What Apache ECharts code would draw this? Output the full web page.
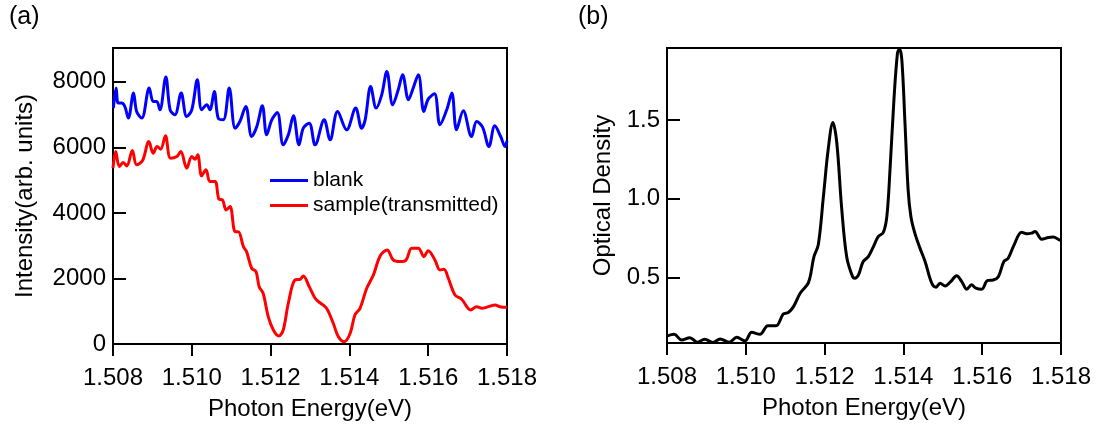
<!DOCTYPE html>
<html>
<head>
<meta charset="utf-8">
<script src="https://cdn.jsdelivr.net/npm/echarts@6/dist/echarts.min.js"></script>
<style>html,body{margin:0;padding:0;background:#fff;}#c{width:1099px;height:430px;}</style>
</head>
<body>
<div id="c"></div>
<script>
const xTicks = [1.508, 1.510, 1.512, 1.514, 1.516, 1.518];
const intensityTicks = [0, 2000, 4000, 6000, 8000];
const odTicks = [0.5, 1.0, 1.5];

const blueX = [1.50801,1.50808,1.50813,1.50822,1.5083,1.50839,1.50852,1.5086,1.50873,1.50892,1.50902,1.50911,1.50919,1.50934,1.50945,1.50957,1.50973,1.50987,1.51,1.51014,1.51025,1.51038,1.51046,1.51057,1.51067,1.5108,1.51095,1.5111,1.51122,1.51137,1.51152,1.51165,1.51179,1.5119,1.51203,1.51217,1.51232,1.51245,1.51258,1.51272,1.51283,1.51298,1.51313,1.51336,1.51351,1.5137,1.51393,1.51416,1.51431,1.5144,1.51454,1.51468,1.51482,1.51495,1.5151,1.51524,1.51535,1.5155,1.51561,1.51575,1.51589,1.516,1.51616,1.5163,1.51647,1.5166,1.51672,1.51689,1.5171,1.51723,1.51738,1.51754,1.51769,1.51784,1.51795,1.518];
const blankY = [7196,7807,7349,7349,7245,6891,7654,7092,6891,7807,7398,7398,7144,8142,7144,6991,7654,6940,7144,8060,7144,7297,7144,7703,6891,6839,7807,6585,6787,7245,6329,6634,7266,6381,6839,7062,6075,6381,6961,6075,6585,6738,6075,6839,6228,7092,6533,7196,6585,6839,7855,7196,7602,8313,7297,7755,8213,7449,7776,8213,7092,7471,7633,6686,7144,7654,6533,7113,6329,6787,6616,6024,6656,6329,6024,6198];

const redX = [1.508,1.50807,1.50816,1.50826,1.50835,1.50849,1.5086,1.50875,1.50891,1.50902,1.50912,1.50921,1.50933,1.50946,1.50962,1.50972,1.50987,1.51,1.51008,1.51015,1.51025,1.51036,1.51046,1.51059,1.51069,1.51078,1.51087,1.51097,1.5111,1.51118,1.51131,1.51139,1.51152,1.51163,1.51171,1.51181,1.51194,1.51207,1.51221,1.51232,1.51245,1.51262,1.51275,1.51283,1.51298,1.51313,1.51325,1.51342,1.51359,1.51372,1.51387,1.51402,1.51414,1.51427,1.51444,1.51461,1.51478,1.51496,1.51511,1.51528,1.51544,1.51558,1.51575,1.51589,1.516,1.51617,1.5163,1.5164,1.51651,1.51668,1.51685,1.51708,1.51723,1.51736,1.51753,1.5177,1.51782,1.518];
const sampleY = [5364,5871,5413,5535,5434,5901,5465,5596,6176,5822,6024,5944,6350,5669,5718,5871,5364,5718,5639,5770,5129,5312,4955,4955,4418,4396,4091,4192,3428,3428,2971,2818,2311,2207,1749,1548,833,427,244,427,1243,1954,1975,2076,1749,1395,1261,1090,632,223,70,327,885,1090,1700,2107,2687,2870,2565,2513,2565,2922,2922,2665,2848,2565,2259,2281,2006,1496,1365,1038,1139,1090,1139,1191,1139,1120];

const odX = [1.50801,1.50818,1.50837,1.50858,1.50877,1.50896,1.50916,1.50935,1.50958,1.50977,1.50998,1.51015,1.51036,1.51056,1.51077,1.51095,1.51108,1.51121,1.51138,1.51159,1.51173,1.51184,1.51197,1.51209,1.51221,1.51231,1.51243,1.51256,1.51271,1.51277,1.51286,1.51298,1.51311,1.51324,1.51336,1.51349,1.51358,1.51366,1.51376,1.51385,1.5139,1.51396,1.51404,1.51412,1.51419,1.51429,1.51442,1.51455,1.51472,1.51483,1.51493,1.51506,1.5152,1.51535,1.51548,1.51561,1.51573,1.51584,1.51599,1.51613,1.51628,1.51641,1.51655,1.51666,1.51681,1.517,1.51713,1.51725,1.51734,1.51751,1.51768,1.5178,1.51796,1.518];
const odY = [0.130,0.140,0.104,0.119,0.090,0.109,0.088,0.111,0.089,0.121,0.098,0.153,0.140,0.195,0.195,0.269,0.278,0.316,0.401,0.468,0.633,0.708,1.015,1.311,1.485,1.354,0.951,0.633,0.506,0.496,0.517,0.602,0.633,0.697,0.760,0.786,0.888,1.184,1.629,1.926,1.951,1.883,1.481,1.057,0.888,0.782,0.687,0.602,0.464,0.439,0.464,0.447,0.475,0.511,0.475,0.426,0.454,0.433,0.426,0.481,0.485,0.506,0.602,0.623,0.708,0.788,0.778,0.782,0.792,0.744,0.754,0.757,0.740,0.735];

const zip = (xs, ys) => xs.map((x, i) => [x, ys[i]]);
const FONT = '"Liberation Sans", Arial, sans-serif';
const txt = (size) => ({ color: '#000', fontFamily: FONT, fontSize: size });

function xAxisFor(gridIndex) {
  return {
    type: 'value', gridIndex, min: 1.508, max: 1.518, interval: 0.002,
    name: 'Photon Energy(eV)', nameLocation: 'middle', nameGap: 53,
    nameTextStyle: txt(24),
    axisLine: { show: true, onZero: false, lineStyle: { color: '#000', width: 2 } },
    axisTick: { show: true, inside: false, length: 12, lineStyle: { color: '#000', width: 2 } },
    axisLabel: { margin: 22, formatter: v => v.toFixed(3), ...txt(24) },
    splitLine: { show: false }
  };
}

const option = {
  animation: false,
  backgroundColor: '#fff',
  graphic: [
    { type: 'text', left: 9, top: 5, style: { text: '(a)', fill: '#000', font: '25px "Liberation Sans", Arial, sans-serif' } },
    { type: 'text', left: 578, top: 5, style: { text: '(b)', fill: '#000', font: '25px "Liberation Sans", Arial, sans-serif' } }
  ],
  grid: [
    { left: 113, right: 592, top: 48, bottom: 86, show: true, borderColor: '#000', borderWidth: 2, backgroundColor: 'transparent' },
    { left: 667, right: 38, top: 48, bottom: 87, show: true, borderColor: '#000', borderWidth: 2, backgroundColor: 'transparent' }
  ],
  legend: {
    data: ['blank', 'sample(transmitted)'],
    left: 265, top: 165, orient: 'vertical',
    icon: 'rect', itemWidth: 38, itemHeight: 3, itemGap: 4,
    textStyle: txt(21)
  },
  xAxis: [xAxisFor(0), xAxisFor(1)],
  yAxis: [
    {
      type: 'value', gridIndex: 0, min: 0, max: 9030, interval: 2000,
      name: 'Intensity(arb. units)', nameLocation: 'middle', nameGap: 76, nameRotate: 90,
      nameTextStyle: txt(24),
      axisLine: { show: true, onZero: false, lineStyle: { color: '#000', width: 2 } },
      axisTick: { show: true, inside: true, length: 13, customValues: intensityTicks, lineStyle: { color: '#000', width: 2 } },
      axisLabel: { customValues: intensityTicks, margin: 7, formatter: v => String(Math.round(v)), ...txt(24) },
      splitLine: { show: false }
    },
    {
      type: 'value', gridIndex: 1, min: 0.085, max: 1.957,
      name: 'Optical Density', nameLocation: 'middle', nameGap: 52, nameRotate: 90,
      nameTextStyle: txt(24),
      axisLine: { show: true, onZero: false, lineStyle: { color: '#000', width: 2 } },
      axisTick: { show: true, inside: true, length: 13, customValues: odTicks, lineStyle: { color: '#000', width: 2 } },
      axisLabel: { customValues: odTicks, margin: 7, formatter: v => v.toFixed(1), ...txt(24) },
      splitLine: { show: false }
    }
  ],
  series: [
    { name: 'blank', type: 'line', xAxisIndex: 0, yAxisIndex: 0, data: zip(blueX, blankY), smooth: 0.35, showSymbol: false, symbol: 'none', color: '#0000ff', lineStyle: { width: 3, color: '#0000ff' } },
    { name: 'sample(transmitted)', type: 'line', xAxisIndex: 0, yAxisIndex: 0, data: zip(redX, sampleY), smooth: 0.35, showSymbol: false, symbol: 'none', color: '#ff0000', lineStyle: { width: 3, color: '#ff0000' } },
    { name: 'OD', type: 'line', xAxisIndex: 1, yAxisIndex: 1, data: zip(odX, odY), smooth: 0.35, showSymbol: false, symbol: 'none', color: '#000', lineStyle: { width: 3, color: '#000' } }
  ]
};

const chart = echarts.init(document.getElementById('c'), null, { renderer: 'canvas' });
chart.setOption(option);
</script>
</body>
</html>
